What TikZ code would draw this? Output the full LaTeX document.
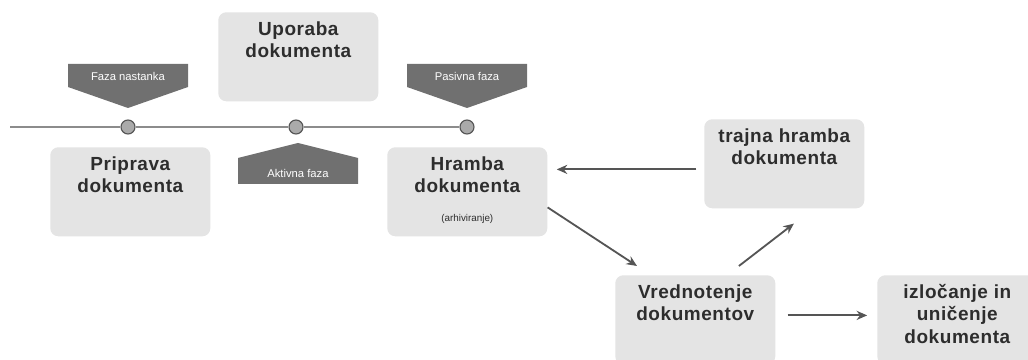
\documentclass[tikz,border=0pt]{standalone}
\usepackage{fontspec}
\setmainfont{Liberation Sans}
\newfontfamily\wideface[LetterSpace=3]{Liberation Sans}
\usepackage{tikz}
\usetikzlibrary{arrows.meta}
\definecolor{boxfill}{RGB}{228, 228, 228}
\definecolor{phase}{RGB}{112, 112, 112}
\definecolor{dotfill}{RGB}{170, 170, 170}
\definecolor{dotdraw}{RGB}{85, 85, 85}
\definecolor{axis}{RGB}{140, 140, 140}
\definecolor{arrow}{RGB}{85, 85, 85}
\definecolor{ink}{RGB}{45, 45, 45}

\newcommand{\boxtext}[1]{\parbox[t][2.225cm][t]{4cm}{\centering\rule{0pt}{0.575cm}#1}}

\begin{document}
\begin{tikzpicture}[x=0.025cm, y=-0.025cm,
  box/.style={fill=boxfill, rounded corners=0.2cm, inner sep=0pt, anchor=north west,
    text=ink, font=\wideface\fontsize{13.5}{16}\selectfont\bfseries},
  dot/.style={circle, fill=dotfill, draw=dotdraw, line width=0.8pt, minimum size=0.35cm, inner sep=0pt},
  tag/.style={text=white, font=\fontsize{8}{9}\selectfont, inner sep=0pt},
  arr/.style={-{Stealth[length=7.5pt, width=6.5pt]}, draw=arrow, line width=1.3pt}]
  \useasboundingbox (0, 0) rectangle (1028, 360);
  \clip (0, 0) rectangle (1028, 360);

  % timeline
  \coordinate (start) at (10, 127);
  \foreach [count=\n] \x in {128, 296, 467} {
    \node[dot] (d\n) at (\x, 127) {};
  }
  \draw[axis, line width=1.3pt] (start) -- (d1) -- (d2) -- (d3);

  % phase tags
  \foreach \c/\t/\nm in {128/Faza nastanka/fn, 467/Pasivna faza/pf} {
    \fill[phase] (\c - 60, 64) -- (\c + 60, 64) -- (\c + 60, 87) -- (\c, 108) -- (\c - 60, 87) -- cycle;
    \node[tag] (\nm) at (\c, 76) {\t};
  }
  \fill[phase] (238, 184) -- (358, 184) -- (358, 158) -- (298, 143) -- (238, 158) -- cycle;
  \node[tag] (af) at (298, 173) {Aktivna faza};

  % boxes
  \node[box] (prip) at (50, 147) {\boxtext{Priprava\\dokumenta}};
  \node[box] (upor) at (218, 12) {\boxtext{Uporaba\\dokumenta}};
  \node[box] (hram) at (387, 147) {\boxtext{Hramba\\dokumenta\\[4.5pt]{\normalfont\fontsize{7}{8}\selectfont (arhiviranje)}}};
  \node[box] (traj) at (704, 119) {\boxtext{trajna hramba\\dokumenta}};
  \node[box] (vred) at (615, 275) {\boxtext{Vrednotenje\\dokumentov}};
  \node[box] (izlo) at (877, 275) {\boxtext{izločanje in\\uničenje\\dokumenta}};

  % arrows
  \path ([yshift=-0.14cm]traj.west) coordinate (tw);
  \draw[arr, shorten <=5.5pt, shorten >=6.5pt] (tw) -- (tw -| hram.east);
  \draw[arr] ([yshift=-0.39cm]hram.east) -- ([xshift=0.55cm, yshift=0.225cm]vred.north west);
  \draw[arr] ([xshift=1.09cm, yshift=0.225cm]vred.north) -- ([xshift=0.24cm, yshift=-0.375cm]traj.south);
  \path ([yshift=0.11cm]vred.east) coordinate (ve);
  \draw[arr, shorten <=8.5pt, shorten >=7pt] (ve) -- (ve -| izlo.west);
\end{tikzpicture}
\end{document}
